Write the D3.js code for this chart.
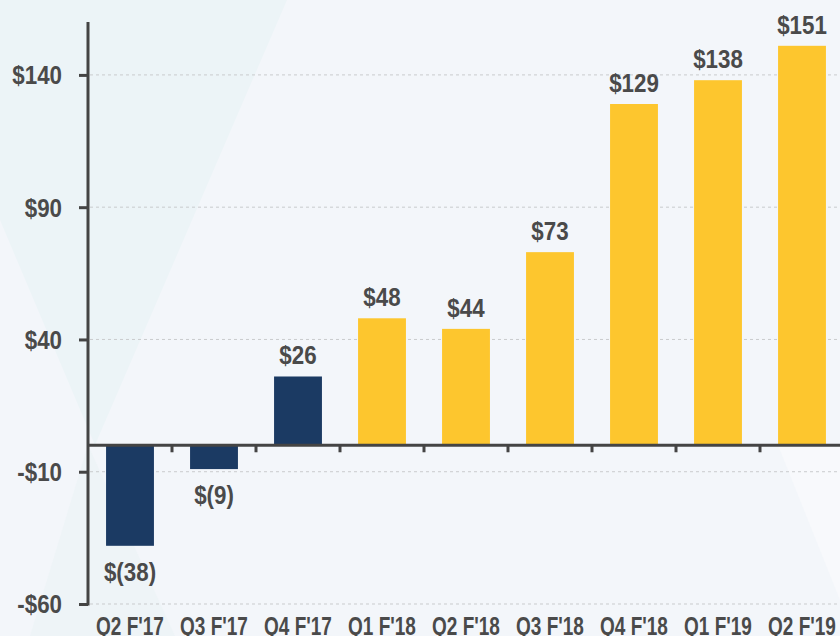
<!DOCTYPE html>
<html><head><meta charset="utf-8">
<script src="https://cdn.jsdelivr.net/npm/d3@7"></script>
<style>
html,body{margin:0;padding:0;background:#f3f6fa;}
svg{display:block;}
text{font-family:"Liberation Sans",Arial,sans-serif;font-weight:bold;fill:#4a4a4a;}
</style></head>
<body><svg id="c" width="840" height="636"></svg>
<script>
const categories = ["Q2 F'17","Q3 F'17","Q4 F'17","Q1 F'18","Q2 F'18","Q3 F'18","Q4 F'18","Q1 F'19","Q2 F'19"];
const values = [-38, -9, 26, 48, 44, 73, 129, 138, 151];
const labels = ["$(38)","$(9)","$26","$48","$44","$73","$129","$138","$151"];
const highlight = [false,false,false,true,true,true,true,true,true];
const yTicks = [-60, -10, 40, 90, 140];
const yTickLabels = ["-$60","-$10","$40","$90","$140"];

const svg = d3.select("#c");
const W = 840, H = 636;
const NUM_SX = 0.86, CAT_SX = 0.76;

// background shapes
svg.append("rect").attr("width",W).attr("height",H).attr("fill","#f3f6fa");
svg.append("polygon").attr("points","0,0 287,0 95,445 0,220").attr("fill","#ecf4f7");
svg.append("polygon").attr("points","88,445 175,636 30,636").attr("fill","#eef4f7");
svg.append("polygon").attr("points","778,445 840,445 840,600").attr("fill","#f8f9fc");

const x = d3.scaleBand().domain(categories).range([88, 844]).paddingInner(0.43).paddingOuter(0.215);
const y = d3.scaleLinear().domain([-60, 160]).range([604, 22]);

// gridlines
svg.append("g").selectAll("line").data(yTicks).join("line")
  .attr("x1", 90).attr("x2", W)
  .attr("y1", d => y(d)).attr("y2", d => y(d))
  .attr("stroke", "#c9cbcd").attr("stroke-width", 1).attr("stroke-dasharray", "3,3");

// bars
svg.append("g").selectAll("rect").data(values).join("rect")
  .attr("x", (d,i) => x(categories[i]))
  .attr("width", x.bandwidth())
  .attr("y", d => d >= 0 ? y(d) : y(0))
  .attr("height", d => Math.abs(y(d) - y(0)))
  .attr("fill", (d,i) => highlight[i] ? "#fdc62e" : "#1b3a63");

// value labels
svg.append("g").selectAll("text").data(values).join("text")
  .attr("transform", (d,i) => `translate(${x(categories[i]) + x.bandwidth()/2},${d >= 0 ? y(d) - 12 : y(d) + 35}) scale(${NUM_SX},1)`)
  .attr("text-anchor", "middle")
  .attr("font-size", 26)
  .text((d,i) => labels[i]);

// y axis
const yAxis = d3.axisLeft(y).tickValues(yTicks).tickFormat((d,i) => yTickLabels[i]).tickSize(9).tickPadding(17);
const gy = svg.append("g").attr("transform", "translate(88,0)").call(yAxis);
gy.select(".domain").attr("stroke", "#444").attr("stroke-width", 3).attr("d", `M0,${y(160)}V${y(-60)+1.5}`);
gy.selectAll(".tick line").attr("stroke", "#444").attr("stroke-width", 3);
gy.selectAll(".tick text")
  .attr("x", -26 / NUM_SX).attr("dy", "0.34em")
  .attr("transform", `scale(${NUM_SX},1)`)
  .attr("font-size", 26).attr("fill", "#4a4a4a")
  .style("font-family", "'Liberation Sans',Arial,sans-serif").style("font-weight","bold");

// zero axis with category separators
const xAxis = d3.axisBottom(x).tickSize(0).tickFormat(() => "");
const gx = svg.append("g").attr("transform", `translate(0,${y(0)})`).call(xAxis);
gx.select(".domain").attr("stroke", "#444").attr("stroke-width", 3).attr("d", `M87,0H${W}`);
const bounds = categories.slice(1).map(c => x(c) - x.step()*x.paddingInner()/2);
svg.append("g").selectAll("line").data(bounds).join("line")
  .attr("x1", d => d).attr("x2", d => d)
  .attr("y1", y(0)).attr("y2", y(0) + 7)
  .attr("stroke", "#444").attr("stroke-width", 3);

// category labels
svg.append("g").selectAll("text").data(categories).join("text")
  .attr("transform", d => `translate(${x(d) + x.bandwidth()/2},635) scale(${CAT_SX},1)`)
  .attr("text-anchor", "middle")
  .attr("font-size", 25)
  .text(d => d);
</script></body></html>
